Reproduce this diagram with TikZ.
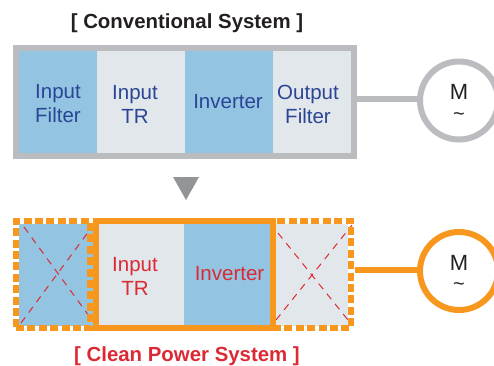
\documentclass[tikz,border=0pt]{standalone}
\usepackage{fontspec}
\setmainfont{Liberation Sans}
\definecolor{blk}{HTML}{93C4E1}
\definecolor{pale}{HTML}{E2E7EB}
\definecolor{gry}{HTML}{BBBCC0}
\definecolor{org}{HTML}{F8971D}
\definecolor{rd}{HTML}{DC2A35}
\definecolor{nav}{HTML}{2B4595}
\definecolor{tri}{HTML}{929497}
\definecolor{ink}{HTML}{231F20}
\tikzset{
  x=1pt,y=1pt,
  blockbox/.style={rectangle,inner sep=0pt,outer sep=0pt},
  blocktext/.style={inner sep=0pt,align=center,font=\fontsize{20.5}{24}\selectfont},
  framebox/.style={rectangle,inner sep=0pt,outer sep=0pt,line width=6pt},
  dashbox/.style={framebox,draw=org,dash pattern=on 8pt off 3.4pt},
  crossline/.style={draw=rd,line width=1pt,dash pattern=on 7pt off 6pt},
  motor/.style={circle,inner sep=0pt,outer sep=0pt,minimum size=78pt,line width=6pt,draw,fill=white},
  mletter/.style={inner sep=0pt,font=\fontsize{22}{24}\selectfont,text=ink},
  mtilde/.style={inner sep=0pt,text height=6pt,text depth=0pt,font=\fontsize{20}{22}\selectfont,text=ink},
  link/.style={line width=6pt},
  titletext/.style={inner sep=0pt,font=\fontsize{20.4}{24}\selectfont\bfseries}
}
\begin{document}
\begin{tikzpicture}
\useasboundingbox (0,0) rectangle (494,365);
% top row
\node[titletext,text=ink] (t1) at (187,341.5) {[ Conventional System ]};
\node[blockbox,fill=blk,minimum width=78pt,minimum height=102pt] (a1) at (58,263) {};
\node[blockbox,fill=pale,minimum width=88pt,minimum height=102pt] (a2) at (141,263) {};
\node[blockbox,fill=blk,minimum width=88pt,minimum height=102pt] (a3) at (229,263) {};
\node[blockbox,fill=pale,minimum width=78pt,minimum height=102pt] (a4) at (312,263) {};
\node[blocktext,text=nav] (a1t) at (58,261) {Input\\Filter};
\node[blocktext,text=nav] (a2t) at (135,261) {Input\\TR};
\node[blocktext,text=nav] (a3t) at (228,263) {Inverter};
\node[blocktext,text=nav] (a4t) at (308,261) {Output\\Filter};
\node[framebox,draw=gry,minimum width=337.5pt,minimum height=107.5pt] (af) at (184.75,263.25) {};
\node[motor,draw=gry] (m1) at (459,264.5) {};
\node[mletter] (m1a) at (459,273) {M};
\node[mtilde] (m1b) at (459,248) {\char"7E};
\coordinate (c1) at (af.east |- 0,266);
\draw[link,draw=gry] (c1) -- (m1.west |- c1);
% arrow
\fill[tri] (173,188) -- (199,188) -- (186,165) -- cycle;
% bottom row
\node[blockbox,fill=blk,minimum width=77pt,minimum height=102pt] (b1) at (57.5,90.5) {};
\node[blockbox,fill=pale,minimum width=85pt,minimum height=102pt] (b2) at (141.5,90.5) {};
\node[blockbox,fill=blk,minimum width=86pt,minimum height=102pt] (b3) at (227,90.5) {};
\node[blockbox,fill=pale,minimum width=78pt,minimum height=102pt] (b4) at (309,90.5) {};
\node[blocktext,text=rd] (b2t) at (135,89) {Input\\TR};
\node[blocktext,text=rd] (b3t) at (229.5,91) {Inverter};
\coordinate (x1) at (24,138);
\coordinate (x2) at (92,45);
\coordinate (x3) at (21,42);
\coordinate (x4) at (92,138);
\coordinate (x5) at (278,132);
\coordinate (x6) at (348,45);
\coordinate (x7) at (276,45);
\coordinate (x8) at (352,140);
\draw[crossline] (x1) -- (x2);
\draw[crossline] (x3) -- (x4);
\draw[crossline] (x5) -- (x6);
\draw[crossline] (x7) -- (x8);
\node[dashbox,minimum width=74pt,minimum height=107pt] (bl) at (53,90.5) {};
\node[dashbox,minimum width=78pt,minimum height=107pt] (br) at (312,90.5) {};
\node[framebox,draw=org,minimum width=177pt,minimum height=107pt] (bf) at (184.5,90.5) {};
\node[motor,draw=org] (m2) at (459,94) {};
\node[mletter] (m2a) at (459,102.5) {M};
\node[mtilde] (m2b) at (459,77.5) {\char"7E};
\coordinate (c2) at (355,95.5);
\draw[link,draw=org] (c2) -- (m2.west |- c2);
\node[titletext,text=rd] (t2) at (187,9) {[ Clean Power System ]};
\end{tikzpicture}
\end{document}
